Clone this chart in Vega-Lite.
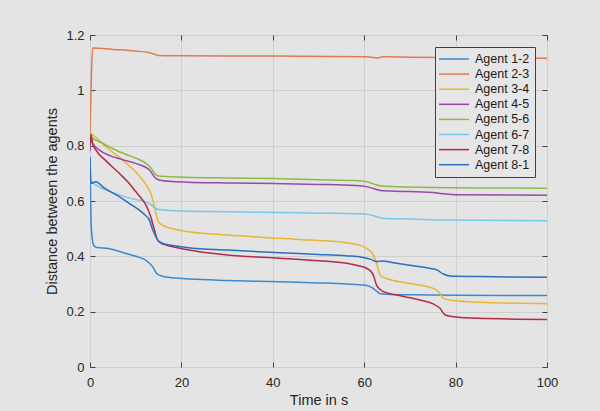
{
  "$schema": "https://vega.github.io/schema/vega-lite/v6.json",
  "width": 457,
  "height": 332,
  "autosize": {"type": "none"},
  "padding": {"left": 90, "top": 35, "right": 53, "bottom": 44},
  "background": "#e4e4e4",
  "config": {
    "font": "Liberation Sans",
    "view": {"fill": "#e4e4e4", "stroke": "#4a4a4a", "strokeWidth": 1},
    "axis": {
      "domain": false,
      "tickColor": "#404040",
      "tickSize": -5,
      "labelFlush": false,
      "labelColor": "#262626",
      "titleColor": "#262626",
      "labelFontSize": 13,
      "titleFontSize": 14.5,
      "titleFontWeight": "normal",
      "gridColor": "#cfcfcf",
      "gridWidth": 1
    }
  },
  "data": {"values": [
    {"t":0,"v":0.76,"s":"Agent 1-2"},{"t":0.3,"v":0.5,"s":"Agent 1-2"},{"t":0.8,"v":0.44,"s":"Agent 1-2"},{"t":1.5,"v":0.432,"s":"Agent 1-2"},{"t":4,"v":0.428,"s":"Agent 1-2"},{"t":7,"v":0.415,"s":"Agent 1-2"},{"t":10,"v":0.4,"s":"Agent 1-2"},{"t":12,"v":0.388,"s":"Agent 1-2"},{"t":13,"v":0.375,"s":"Agent 1-2"},{"t":13.8,"v":0.36,"s":"Agent 1-2"},{"t":14.5,"v":0.34,"s":"Agent 1-2"},{"t":15.5,"v":0.33,"s":"Agent 1-2"},{"t":17.2,"v":0.324,"s":"Agent 1-2"},{"t":22,"v":0.318,"s":"Agent 1-2"},{"t":30,"v":0.313,"s":"Agent 1-2"},{"t":41.6,"v":0.308,"s":"Agent 1-2"},{"t":50,"v":0.304,"s":"Agent 1-2"},{"t":56.2,"v":0.3,"s":"Agent 1-2"},{"t":60,"v":0.296,"s":"Agent 1-2"},{"t":61.5,"v":0.289,"s":"Agent 1-2"},{"t":62.5,"v":0.277,"s":"Agent 1-2"},{"t":63.5,"v":0.265,"s":"Agent 1-2"},{"t":65,"v":0.263,"s":"Agent 1-2"},{"t":70,"v":0.261,"s":"Agent 1-2"},{"t":80,"v":0.259,"s":"Agent 1-2"},{"t":100,"v":0.258,"s":"Agent 1-2"},

    {"t":0,"v":0.85,"s":"Agent 2-3"},{"t":0.3,"v":1.05,"s":"Agent 2-3"},{"t":0.6,"v":1.153,"s":"Agent 2-3"},{"t":5,"v":1.148,"s":"Agent 2-3"},{"t":10,"v":1.142,"s":"Agent 2-3"},{"t":13,"v":1.136,"s":"Agent 2-3"},{"t":14,"v":1.131,"s":"Agent 2-3"},{"t":15,"v":1.126,"s":"Agent 2-3"},{"t":20,"v":1.125,"s":"Agent 2-3"},{"t":40,"v":1.124,"s":"Agent 2-3"},{"t":60,"v":1.121,"s":"Agent 2-3"},{"t":62,"v":1.119,"s":"Agent 2-3"},{"t":63,"v":1.117,"s":"Agent 2-3"},{"t":64,"v":1.121,"s":"Agent 2-3"},{"t":70,"v":1.12,"s":"Agent 2-3"},{"t":85,"v":1.117,"s":"Agent 2-3"},{"t":100,"v":1.116,"s":"Agent 2-3"},

    {"t":0,"v":0.845,"s":"Agent 3-4"},{"t":0.5,"v":0.84,"s":"Agent 3-4"},{"t":3.5,"v":0.796,"s":"Agent 3-4"},{"t":7.9,"v":0.737,"s":"Agent 3-4"},{"t":10,"v":0.705,"s":"Agent 3-4"},{"t":11.5,"v":0.676,"s":"Agent 3-4"},{"t":12.6,"v":0.65,"s":"Agent 3-4"},{"t":13.3,"v":0.628,"s":"Agent 3-4"},{"t":14.1,"v":0.58,"s":"Agent 3-4"},{"t":14.8,"v":0.531,"s":"Agent 3-4"},{"t":15.6,"v":0.515,"s":"Agent 3-4"},{"t":16.6,"v":0.507,"s":"Agent 3-4"},{"t":18.8,"v":0.497,"s":"Agent 3-4"},{"t":22,"v":0.488,"s":"Agent 3-4"},{"t":30,"v":0.477,"s":"Agent 3-4"},{"t":41.6,"v":0.465,"s":"Agent 3-4"},{"t":50,"v":0.457,"s":"Agent 3-4"},{"t":56.2,"v":0.449,"s":"Agent 3-4"},{"t":59,"v":0.44,"s":"Agent 3-4"},{"t":60.5,"v":0.429,"s":"Agent 3-4"},{"t":62,"v":0.405,"s":"Agent 3-4"},{"t":62.7,"v":0.375,"s":"Agent 3-4"},{"t":63.5,"v":0.332,"s":"Agent 3-4"},{"t":64.9,"v":0.32,"s":"Agent 3-4"},{"t":70,"v":0.302,"s":"Agent 3-4"},{"t":75.1,"v":0.284,"s":"Agent 3-4"},{"t":76.6,"v":0.266,"s":"Agent 3-4"},{"t":77.3,"v":0.248,"s":"Agent 3-4"},{"t":79.5,"v":0.24,"s":"Agent 3-4"},{"t":85,"v":0.234,"s":"Agent 3-4"},{"t":100,"v":0.229,"s":"Agent 3-4"},

    {"t":0,"v":0.78,"s":"Agent 4-5"},{"t":0.2,"v":0.84,"s":"Agent 4-5"},{"t":0.6,"v":0.808,"s":"Agent 4-5"},{"t":2,"v":0.785,"s":"Agent 4-5"},{"t":4.2,"v":0.765,"s":"Agent 4-5"},{"t":7,"v":0.75,"s":"Agent 4-5"},{"t":10,"v":0.736,"s":"Agent 4-5"},{"t":13,"v":0.712,"s":"Agent 4-5"},{"t":14.4,"v":0.682,"s":"Agent 4-5"},{"t":16,"v":0.673,"s":"Agent 4-5"},{"t":18.8,"v":0.67,"s":"Agent 4-5"},{"t":30,"v":0.665,"s":"Agent 4-5"},{"t":40,"v":0.663,"s":"Agent 4-5"},{"t":50,"v":0.66,"s":"Agent 4-5"},{"t":58,"v":0.656,"s":"Agent 4-5"},{"t":60.5,"v":0.652,"s":"Agent 4-5"},{"t":62,"v":0.645,"s":"Agent 4-5"},{"t":63.5,"v":0.638,"s":"Agent 4-5"},{"t":66,"v":0.636,"s":"Agent 4-5"},{"t":75,"v":0.631,"s":"Agent 4-5"},{"t":77.5,"v":0.626,"s":"Agent 4-5"},{"t":80,"v":0.623,"s":"Agent 4-5"},{"t":100,"v":0.621,"s":"Agent 4-5"},

    {"t":0,"v":0.85,"s":"Agent 5-6"},{"t":0.3,"v":0.83,"s":"Agent 5-6"},{"t":2,"v":0.815,"s":"Agent 5-6"},{"t":6.4,"v":0.778,"s":"Agent 5-6"},{"t":10,"v":0.755,"s":"Agent 5-6"},{"t":12.25,"v":0.736,"s":"Agent 5-6"},{"t":13.3,"v":0.72,"s":"Agent 5-6"},{"t":14.1,"v":0.7,"s":"Agent 5-6"},{"t":15,"v":0.69,"s":"Agent 5-6"},{"t":18.8,"v":0.687,"s":"Agent 5-6"},{"t":30,"v":0.683,"s":"Agent 5-6"},{"t":40,"v":0.681,"s":"Agent 5-6"},{"t":50,"v":0.677,"s":"Agent 5-6"},{"t":58,"v":0.674,"s":"Agent 5-6"},{"t":60.5,"v":0.67,"s":"Agent 5-6"},{"t":62,"v":0.662,"s":"Agent 5-6"},{"t":63.5,"v":0.655,"s":"Agent 5-6"},{"t":66,"v":0.652,"s":"Agent 5-6"},{"t":75,"v":0.649,"s":"Agent 5-6"},{"t":85,"v":0.647,"s":"Agent 5-6"},{"t":100,"v":0.646,"s":"Agent 5-6"},

    {"t":0,"v":0.76,"s":"Agent 6-7"},{"t":0.2,"v":0.676,"s":"Agent 6-7"},{"t":1.3,"v":0.658,"s":"Agent 6-7"},{"t":3.5,"v":0.64,"s":"Agent 6-7"},{"t":6.4,"v":0.622,"s":"Agent 6-7"},{"t":10,"v":0.605,"s":"Agent 6-7"},{"t":12.25,"v":0.597,"s":"Agent 6-7"},{"t":13.5,"v":0.585,"s":"Agent 6-7"},{"t":14.4,"v":0.573,"s":"Agent 6-7"},{"t":15.5,"v":0.568,"s":"Agent 6-7"},{"t":16.6,"v":0.567,"s":"Agent 6-7"},{"t":20,"v":0.564,"s":"Agent 6-7"},{"t":30,"v":0.561,"s":"Agent 6-7"},{"t":41.6,"v":0.558,"s":"Agent 6-7"},{"t":50,"v":0.556,"s":"Agent 6-7"},{"t":59.8,"v":0.553,"s":"Agent 6-7"},{"t":61.5,"v":0.549,"s":"Agent 6-7"},{"t":62.7,"v":0.543,"s":"Agent 6-7"},{"t":64.2,"v":0.537,"s":"Agent 6-7"},{"t":70,"v":0.535,"s":"Agent 6-7"},{"t":78,"v":0.531,"s":"Agent 6-7"},{"t":100,"v":0.529,"s":"Agent 6-7"},

    {"t":0,"v":0.8,"s":"Agent 7-8"},{"t":0.2,"v":0.84,"s":"Agent 7-8"},{"t":0.5,"v":0.81,"s":"Agent 7-8"},{"t":1.3,"v":0.784,"s":"Agent 7-8"},{"t":3.5,"v":0.745,"s":"Agent 7-8"},{"t":6.4,"v":0.7,"s":"Agent 7-8"},{"t":8.5,"v":0.665,"s":"Agent 7-8"},{"t":10,"v":0.634,"s":"Agent 7-8"},{"t":11.3,"v":0.608,"s":"Agent 7-8"},{"t":12.25,"v":0.585,"s":"Agent 7-8"},{"t":13.3,"v":0.543,"s":"Agent 7-8"},{"t":14.1,"v":0.495,"s":"Agent 7-8"},{"t":14.8,"v":0.459,"s":"Agent 7-8"},{"t":15.6,"v":0.447,"s":"Agent 7-8"},{"t":16.6,"v":0.441,"s":"Agent 7-8"},{"t":18.8,"v":0.432,"s":"Agent 7-8"},{"t":22,"v":0.422,"s":"Agent 7-8"},{"t":30,"v":0.405,"s":"Agent 7-8"},{"t":41.6,"v":0.393,"s":"Agent 7-8"},{"t":50,"v":0.384,"s":"Agent 7-8"},{"t":56.2,"v":0.375,"s":"Agent 7-8"},{"t":59,"v":0.365,"s":"Agent 7-8"},{"t":60.5,"v":0.357,"s":"Agent 7-8"},{"t":61.5,"v":0.345,"s":"Agent 7-8"},{"t":62,"v":0.332,"s":"Agent 7-8"},{"t":62.7,"v":0.296,"s":"Agent 7-8"},{"t":63.8,"v":0.276,"s":"Agent 7-8"},{"t":65,"v":0.268,"s":"Agent 7-8"},{"t":67.1,"v":0.26,"s":"Agent 7-8"},{"t":72,"v":0.243,"s":"Agent 7-8"},{"t":75.1,"v":0.228,"s":"Agent 7-8"},{"t":76.6,"v":0.212,"s":"Agent 7-8"},{"t":77.7,"v":0.188,"s":"Agent 7-8"},{"t":79.5,"v":0.182,"s":"Agent 7-8"},{"t":85,"v":0.176,"s":"Agent 7-8"},{"t":100,"v":0.172,"s":"Agent 7-8"},

    {"t":0,"v":0.76,"s":"Agent 8-1"},{"t":0.2,"v":0.664,"s":"Agent 8-1"},{"t":1.3,"v":0.67,"s":"Agent 8-1"},{"t":3,"v":0.648,"s":"Agent 8-1"},{"t":6.4,"v":0.616,"s":"Agent 8-1"},{"t":9,"v":0.587,"s":"Agent 8-1"},{"t":10.8,"v":0.567,"s":"Agent 8-1"},{"t":12,"v":0.55,"s":"Agent 8-1"},{"t":13,"v":0.531,"s":"Agent 8-1"},{"t":13.7,"v":0.497,"s":"Agent 8-1"},{"t":14.3,"v":0.475,"s":"Agent 8-1"},{"t":14.8,"v":0.459,"s":"Agent 8-1"},{"t":15.6,"v":0.449,"s":"Agent 8-1"},{"t":16.6,"v":0.444,"s":"Agent 8-1"},{"t":18.8,"v":0.437,"s":"Agent 8-1"},{"t":22,"v":0.43,"s":"Agent 8-1"},{"t":30,"v":0.423,"s":"Agent 8-1"},{"t":41.6,"v":0.413,"s":"Agent 8-1"},{"t":50,"v":0.407,"s":"Agent 8-1"},{"t":56,"v":0.402,"s":"Agent 8-1"},{"t":59.8,"v":0.396,"s":"Agent 8-1"},{"t":61.5,"v":0.389,"s":"Agent 8-1"},{"t":62.7,"v":0.381,"s":"Agent 8-1"},{"t":64,"v":0.383,"s":"Agent 8-1"},{"t":66,"v":0.378,"s":"Agent 8-1"},{"t":70.7,"v":0.366,"s":"Agent 8-1"},{"t":74.5,"v":0.356,"s":"Agent 8-1"},{"t":75.9,"v":0.351,"s":"Agent 8-1"},{"t":77.3,"v":0.336,"s":"Agent 8-1"},{"t":78.8,"v":0.329,"s":"Agent 8-1"},{"t":85,"v":0.327,"s":"Agent 8-1"},{"t":100,"v":0.324,"s":"Agent 8-1"}
  ]},
  "layer": [
    {
      "mark": {"type": "line", "interpolate": "monotone", "strokeWidth": 1.5, "clip": true},
      "encoding": {
        "x": {"field": "t", "type": "quantitative", "scale": {"domain": [0, 100], "nice": false},
              "axis": {"orient": "bottom", "values": [0,20,40,60,80,100], "title": "Time in s", "labelPadding": 14, "titlePadding": 4, "grid": true}},
        "y": {"field": "v", "type": "quantitative", "scale": {"domain": [0, 1.2], "nice": false},
              "axis": {"orient": "left", "values": [0,0.2,0.4,0.6,0.8,1,1.2], "format": "~g", "title": "Distance between the agents", "labelPadding": 11, "titlePadding": 6, "grid": true}},
        "color": {"field": "s", "type": "nominal",
          "scale": {"domain": ["Agent 1-2","Agent 2-3","Agent 3-4","Agent 4-5","Agent 5-6","Agent 6-7","Agent 7-8","Agent 8-1"],
                    "range": ["#3a8ad0","#e07a50","#e8b630","#9a48a8","#8cba48","#74c8ec","#b52a45","#2a6fc0"]},
          "legend": {"title": null, "orient": "none", "legendX": 345, "legendY": 12,
                     "symbolType": "M-1.33,0H3.67", "symbolSize": 144, "symbolStrokeWidth": 1.5,
                     "rowPadding": 1.1, "padding": 5, "labelOffset": 21, "labelFontSize": 12.5,
                     "labelColor": "#1a1a1a", "strokeColor": "#404040", "fillColor": "#e6e6e6"}}
      }
    },
    {
      "mark": {"type": "point", "opacity": 0},
      "encoding": {
        "x": {"field": "t", "type": "quantitative", "axis": {"orient": "top", "values": [0,20,40,60,80,100], "labels": false, "title": null, "grid": false}},
        "y": {"field": "v", "type": "quantitative", "axis": {"orient": "right", "values": [0,0.2,0.4,0.6,0.8,1,1.2], "labels": false, "title": null, "grid": false}}
      }
    }
  ],
  "resolve": {"axis": {"x": "independent", "y": "independent"}}
}
